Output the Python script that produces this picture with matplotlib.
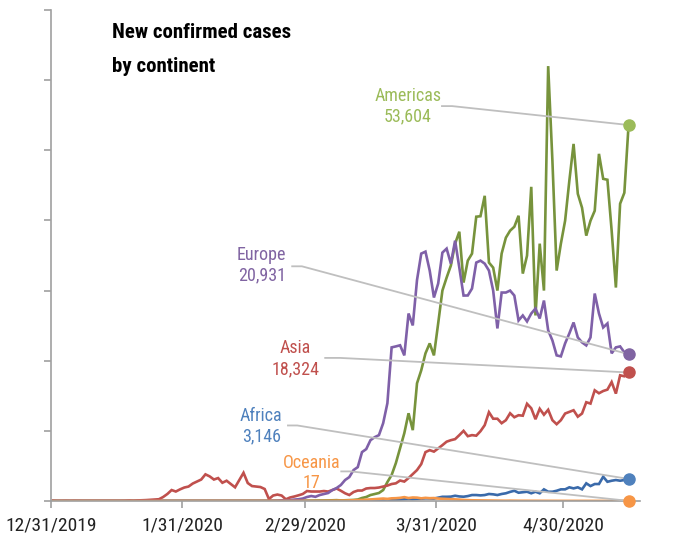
import numpy as np
import matplotlib
matplotlib.use("Agg")
import matplotlib.pyplot as plt

# daily new cases, 12/31/2019 .. 5/15/2020 (137 days)
asia = [27, 0, 0, 17, 0, 15, 0, 0, 0, 0,
        0, 0, 1, 1, 0, 4, 1, 17, 60, 30,
        80, 100, 130, 170, 200, 250, 570, 1000, 1560, 1350,
        1660, 1920, 2060, 2490, 2770, 3060, 3800, 3510, 3060, 3270,
        2600, 2890, 2420, 1950, 2990, 4020, 2560, 2130, 2060, 1990,
        1710, 280, 780, 920, 780, 240, 500, 640, 810, 1000,
        1420, 1350, 1350, 1350, 1420, 1350, 1560, 1780, 1460, 1100,
        850, 1280, 1490, 1490, 1780, 1850, 1850, 1920, 2060, 2200,
        2420, 2520, 2920, 2770, 3270, 3840, 4410, 5260, 6970, 7250,
        7040, 7490, 7960, 8460, 8670, 8820, 9390, 10000, 9240, 9390,
        9310, 9950, 10810, 12660, 11730, 11730, 11090, 11520, 12510, 11940,
        12230, 12160, 13860, 13220, 11660, 13150, 12300, 13010, 11520, 10950,
        11520, 12470, 12700, 12940, 12020, 12470, 14080, 13890, 15780, 15360,
        15680, 15880, 16960, 15310, 17920, 17780, 18324]

europe = [0, 0, 0, 0, 0, 0, 0, 0, 0, 0,
          0, 0, 0, 0, 0, 0, 0, 0, 0, 0,
          0, 0, 0, 0, 4, 0, 0, 3, 0, 2,
          0, 5, 0, 0, 1, 0, 0, 0, 1, 0,
          0, 0, 2, 1, 0, 0, 1, 0, 0, 3,
          0, 3, 17, 42, 93, 75, 120, 200, 250, 350,
          570, 710, 600, 850, 1000, 1140, 1560, 1850, 2280, 2990,
          3410, 4410, 4830, 6970, 7400, 8670, 9100, 9390, 11090, 13940,
          21900, 22040, 22200, 20760, 26730, 25030, 31500, 35270, 35550, 32850,
          29010, 31000, 35410, 35980, 33840, 37110, 33270, 29290, 29300, 30290,
          33990, 34270, 33840, 32850, 30000, 24600, 29720, 29720, 30000, 29290,
          25740, 26450, 25600, 26730, 27440, 26020, 28580, 24320, 22890, 20760,
          20620, 22470, 23890, 25450, 23320, 22610, 22180, 23320, 29580, 26730,
          24740, 25310, 21050, 21900, 22040, 21190, 20931]

americas = [0, 0, 0, 0, 0, 0, 0, 0, 0, 0,
            0, 0, 0, 0, 0, 0, 0, 0, 0, 0,
            0, 1, 0, 1, 1, 1, 2, 0, 0, 0,
            1, 0, 1, 1, 0, 0, 0, 0, 0, 0,
            0, 0, 0, 0, 0, 0, 0, 0, 0, 0,
            0, 0, 0, 0, 0, 2, 1, 3, 5, 10,
            20, 30, 30, 40, 60, 80, 100, 120, 80, 100,
            120, 150, 210, 430, 570, 850, 1000, 1140, 1560, 2700,
            3700, 5400, 7540, 9670, 12510, 10100, 16780, 18630, 21050, 22470,
            20760, 25310, 30000, 31850, 33560, 36690, 38390, 31140, 34270, 35270,
            40530, 40600, 43510, 33990, 33270, 30000, 35270, 37540, 38540, 39100,
            40670, 32420, 34980, 44790, 26450, 36690, 30000, 62000, 48490, 32850,
            36690, 39960, 45650, 50910, 43800, 41810, 37830, 39960, 41380, 49490,
            45930, 45800, 38540, 30430, 42380, 43940, 53604]

africa = [0, 0, 0, 0, 0, 0, 0, 0, 0, 0,
          0, 0, 0, 0, 0, 0, 0, 0, 0, 0,
          0, 0, 0, 0, 0, 0, 0, 0, 0, 0,
          0, 0, 0, 0, 0, 0, 0, 0, 0, 0,
          0, 0, 0, 0, 0, 1, 0, 0, 0, 0,
          0, 0, 0, 0, 0, 0, 1, 0, 1, 0,
          2, 0, 3, 5, 10, 12, 20, 25, 30, 35,
          45, 60, 80, 90, 100, 120, 130, 150, 180, 200,
          140, 170, 200, 250, 280, 260, 300, 320, 380, 370,
          350, 470, 600, 600, 620, 750, 650, 610, 700, 850,
          850, 800, 850, 1000, 950, 850, 1000, 1100, 1300, 1460,
          1180, 1250, 1320, 1100, 1320, 1100, 1660, 1320, 1320, 1460,
          1660, 1660, 1950, 1800, 1950, 1660, 2520, 2130, 2420, 2420,
          3460, 2740, 2890, 2990, 2890, 2990, 3146]

oceania = [0, 0, 0, 0, 0, 0, 0, 0, 0, 0,
           0, 0, 0, 0, 0, 0, 0, 0, 0, 0,
           0, 0, 0, 0, 0, 3, 1, 0, 1, 2,
           0, 0, 1, 0, 0, 0, 0, 0, 0, 0,
           0, 0, 0, 0, 0, 0, 0, 0, 0, 0,
           0, 0, 0, 0, 0, 2, 3, 5, 4, 3,
           5, 8, 10, 15, 20, 25, 30, 40, 50, 60,
           80, 100, 120, 150, 180, 220, 260, 300, 350, 300,
           380, 400, 450, 550, 420, 500, 480, 380, 450, 400,
           420, 350, 320, 300, 250, 220, 200, 150, 120, 100,
           90, 80, 70, 60, 50, 55, 40, 35, 45, 30,
           30, 25, 28, 20, 25, 22, 20, 18, 20, 15,
           18, 15, 20, 12, 16, 14, 18, 12, 15, 16,
           14, 12, 18, 15, 20, 14, 17]

tick_days = [0, 31, 60, 91, 121]
tick_labels = ["12/31/2019", "1/31/2020", "2/29/2020", "3/31/2020", "4/30/2020"]

names = ["Africa", "Americas", "Asia", "Europe", "Oceania"]
series = [africa, americas, asia, europe, oceania]
line_colors = ["#3A6AAA", "#77933C", "#C0504D", "#7F60A8", "#F79646"]
label_colors = ["#4F81BD", "#9BBB59", "#C0504D", "#8064A2", "#F79646"]
# label centre (day, value) and start of leader line (day)
label_pos = [(49.7, 10670), (84.3, 56300), (57.7, 20260), (49.8, 33600), (61.5, 3980)]
leader_start = [(56.0, 10770), (92.4, 56300), (64.8, 20400), (57.0, 33460), (68.6, 4220)]
leader_bend = [58.2, 94.8, 68.3, 59.3, 70.8]

cond = ["Roboto Condensed", "Archivo Narrow", "DejaVu Sans"]

fig = plt.figure(figsize=(6.73, 5.36), dpi=100)
ax = fig.add_axes([51/673, 1-501/536, (640-51)/673, (501-10)/536])

x = np.arange(len(asia)) + 0.5
for vals, c in zip(series, line_colors):
    ax.plot(x, vals, color=c, lw=1.9, solid_joinstyle="miter", zorder=2)

for i, name in enumerate(names):
    vals = series[i]
    lx, ly = label_pos[i]
    ax.text(lx, ly, f"{name}\n{vals[-1]:,}", color=label_colors[i], ha="center",
            va="center", fontsize=13, family=cond, linespacing=1.2)
    sx, sy = leader_start[i]
    ax.plot([sx, leader_bend[i], x[-1]], [sy, sy, vals[-1]], color="#BFBFBF",
            lw=1.3, zorder=3)
    ax.plot([x[-1]], [vals[-1]], "o", color=label_colors[i], ms=8, zorder=4,
            clip_on=False)

ax.set_xlim(0, 139.2)
ax.set_ylim(0, 70000)
ax.set_yticks(np.arange(0, 70001, 10000))
ax.set_yticklabels([])
ax.set_xticks(tick_days)
ax.set_xticklabels(tick_labels, family=cond, fontsize=14, color="#222222")
ax.tick_params(axis="both", direction="out", length=5, width=1.2, color="#A0A0A0", pad=6)
for s in ["top", "right"]:
    ax.spines[s].set_visible(False)
for s in ["left", "bottom"]:
    ax.spines[s].set_color("#A0A0A0")
    ax.spines[s].set_linewidth(1.2)

fig.text(112/673, 1-38.3/536, "New confirmed cases", family=cond, weight="bold",
         fontsize=15, va="baseline", ha="left", color="black")
fig.text(112/673, 1-72.3/536, "by continent", family=cond, weight="bold",
         fontsize=15, va="baseline", ha="left", color="black")

fig.savefig("out.png", dpi=100)
